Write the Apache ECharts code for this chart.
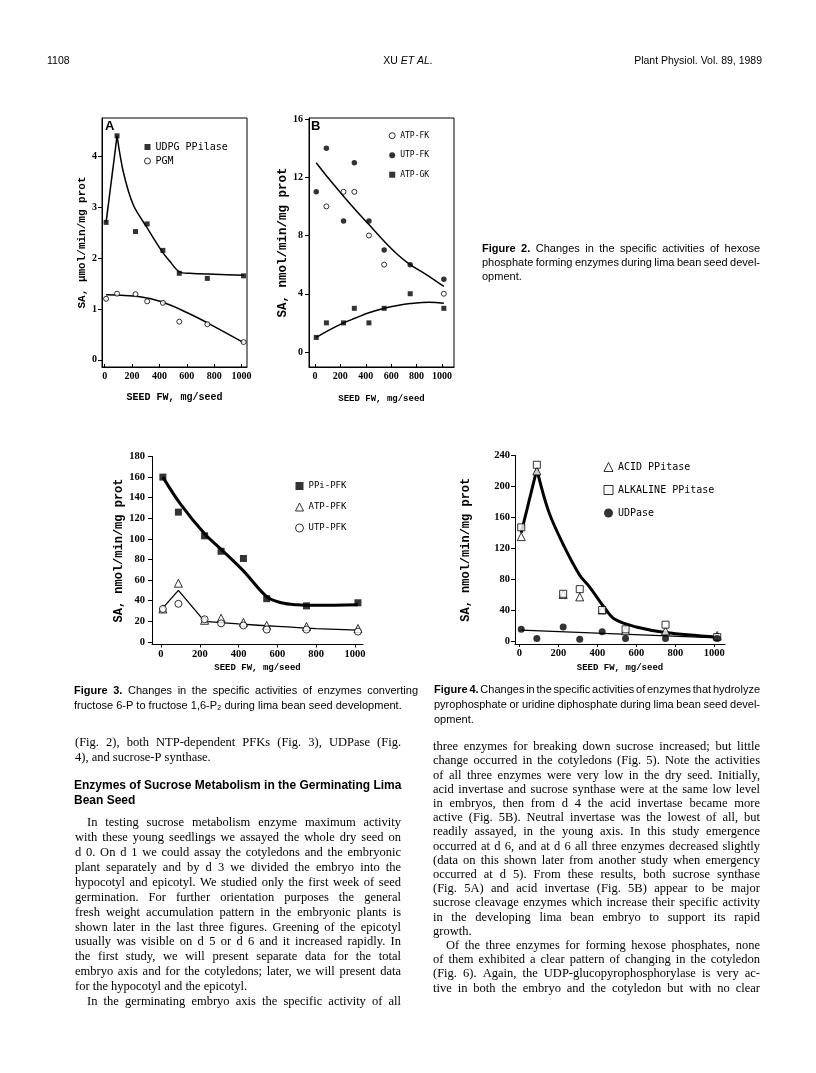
<!DOCTYPE html>
<html><head><meta charset="utf-8">
<script src="https://cdn.jsdelivr.net/npm/echarts@6/dist/echarts.min.js"></script>
<style>html,body{margin:0;padding:0;background:#fff}#c{width:816px;height:1073px}</style>
</head><body><div id="c"></div>
<script>
// ---------------- DATA ----------------
const seedFW = [10, 90, 225, 310, 425, 545, 750, 1015];
const xTicks = [0, 200, 400, 600, 800, 1000];

// Figure 2A
const yTicks2A = [0, 1, 2, 3, 4];
const udpgPPilase = [2.7, 4.4, 2.52, 2.67, 2.15, 1.7, 1.6, 1.65];
const pgm = [1.2, 1.3, 1.29, 1.15, 1.12, 0.75, 0.7, 0.35];
const udpgRiseX = [10, 90];
const udpgRiseY = [2.7, 4.4];
const udpgFitX = [90, 136, 209, 306, 416, 477, 545, 623, 800, 1015];
const udpgFitY = [4.4, 3.69, 3.04, 2.61, 2.14, 1.93, 1.73, 1.70, 1.68, 1.66];
const pgmFitX = [10, 258, 416, 623, 818, 1015];
const pgmFitY = [1.28, 1.24, 1.14, 0.9, 0.63, 0.34];

// Figure 2B
const yTicks2B = [0, 4, 8, 12, 16];
const atpFK = [null, 10, 11, 11, 8, 6, null, 4];
const utpFK = [11, 14, 9, 13, 9, 7, 6, 5];
const atpGK = [1, 2, 2, 3, 2, 3, 4, 3];
const fkFitX = [10, 100, 225, 325, 425, 545, 650, 750, 880, 1015];
const fkFitY = [13, 12.0, 10.7, 9.7, 8.75, 7.6, 6.7, 6.0, 5.3, 4.5];
const gkFitX = [10, 100, 225, 325, 425, 545, 650, 750, 900, 1015];
const gkFitY = [1.0, 1.45, 2.0, 2.35, 2.7, 3.0, 3.2, 3.33, 3.42, 3.35];

// Figure 3
const yTicks3 = [0, 20, 40, 60, 80, 100, 120, 140, 160, 180];
const ppiPFK = [160, 126, 103, 88, 81, 42, 35, 38];
const atpPFK = [32, 57, 21, 23, 19, 16, 15, 13];
const utpPFK = [32, 37, 22, 18, 16, 12, 12, 10];
const ppiFitX = [10, 100, 225, 310, 425, 545, 620, 700, 800, 1015];
const ppiFitY = [160, 134, 105, 90, 69, 44, 38, 36, 35.5, 36];
const ntpPeakX = [10, 90, 225];
const ntpPeakY = [33, 50, 20];
const ntpFitX = [225, 400, 600, 800, 1015];
const ntpFitY = [20, 17.5, 15, 13, 11.5];

// Figure 4
const yTicks4 = [0, 40, 80, 120, 160, 200, 240];
const acidPPitase = [135, 220, 60, 57, 40, 13, 13, 7];
const alkPPitase = [147, 228, 61, 67, 40, 15, 21, 5];
const udpase = [15, 3, 18, 2, 12, 3, 3, 3];
const ppRiseX = [10, 90];
const ppRiseY = [140, 222];
const ppFitX = [90, 150, 225, 310, 360, 440, 490, 600, 750, 1015];
const ppFitY = [222, 168, 125, 85, 70, 42, 28, 18, 11, 5];
const udpFitX = [10, 1015];
const udpFitY = [14, 4];

// ---------------- TEXT ----------------
const headerLeft = "1108";
const headerMid = ["XU", "ET AL."];
const headerRight = "Plant Physiol. Vol. 89, 1989";
const fig2Caption = ["Figure 2. Changes in the specific activities of hexose",
  "phosphate forming enzymes during lima bean seed devel-", "opment."];
const fig3Caption = ["Figure 3. Changes in the specific activities of enzymes converting",
  "fructose 6-P to fructose 1,6-P\u2082 during lima bean seed development."];
const fig4Caption = ["Figure 4. Changes in the specific activities of enzymes that hydrolyze",
  "pyrophosphate or uridine diphosphate during lima bean seed devel-", "opment."];
const leftTop = ["(Fig. 2), both NTP-dependent PFKs (Fig. 3), UDPase (Fig.",
  "4), and sucrose-P synthase."];
const heading = ["Enzymes of Sucrose Metabolism in the Germinating Lima", "Bean Seed"];
const leftPara = [
  "In testing sucrose metabolism enzyme maximum activity",
  "with these young seedlings we assayed the whole dry seed on",
  "d 0. On d 1 we could assay the cotyledons and the embryonic",
  "plant separately and by d 3 we divided the embryo into the",
  "hypocotyl and epicotyl. We studied only the first week of seed",
  "germination. For further orientation purposes the general",
  "fresh weight accumulation pattern in the embryonic plants is",
  "shown later in the last three figures. Greening of the epicotyl",
  "usually was visible on d 5 or d 6 and it increased rapidly. In",
  "the first study, we will present separate data for the total",
  "embryo axis and for the cotyledons; later, we will present data",
  "for the hypocotyl and the epicotyl.",
  "In the germinating embryo axis the specific activity of all"];
const leftParaEnds = [11];
const leftIndents = [0, 12];
const rightPara = [
  "three enzymes for breaking down sucrose increased; but little",
  "change occurred in the cotyledons (Fig. 5). Note the activities",
  "of all three enzymes were very low in the dry seed. Initially,",
  "acid invertase and sucrose synthase were at the same low level",
  "in embryos, then from d 4 the acid invertase became more",
  "active (Fig. 5B). Neutral invertase was the lowest of all, but",
  "readily assayed, in the young axis. In this study emergence",
  "occurred at d 6, and at d 6 all three enzymes decreased slightly",
  "(data on this shown later from another study when emergency",
  "occurred at d 5). From these results, both sucrose synthase",
  "(Fig. 5A) and acid invertase (Fig. 5B) appear to be major",
  "sucrose cleavage enzymes which increase their specific activity",
  "in the developing lima bean embryo to support its rapid",
  "growth.",
  "Of the three enzymes for forming hexose phosphates, none",
  "of them exhibited a clear pattern of changing in the cotyledon",
  "(Fig. 6). Again, the UDP-glucopyrophosphorylase is very ac-",
  "tive in both the embryo and the cotyledon but with no clear"];
const rightParaEnds = [13];
const rightIndents = [14];

// ---------------- HELPERS ----------------
const ctx = document.createElement('canvas').getContext('2d');
function tw(s, font) { ctx.font = font; return ctx.measureText(s).width; }
function textEl(s, x, y, font, align) {
  return { type: 'text', x: x, y: y, silent: true,
    style: { text: s, font: font, fill: '#000', textAlign: align || 'left', align: align || 'left',
      textVerticalAlign: 'middle', verticalAlign: 'middle' } };
}
function lineEls(str, x, y, width, font, boldFont, boldCount, justify) {
  const words = str.split(' ').filter(w => w.length);
  const fonts = words.map((w, i) => i < boldCount ? boldFont : font);
  const ws = words.map((w, i) => tw(w, fonts[i]));
  const total = ws.reduce((a, b) => a + b, 0);
  const gap = (justify && words.length > 1) ? (width - total) / (words.length - 1) : tw(' ', font);
  let cx = x; const out = [];
  words.forEach((w, i) => { out.push(textEl(w, cx, y, fonts[i])); cx += ws[i] + gap; });
  return out;
}
function block(lines, x, y0, lead, width, font, opts) {
  opts = opts || {};
  let out = [];
  lines.forEach((s, i) => {
    const ind = (opts.indents || []).includes(i) ? (opts.indent || 0) : 0;
    const last = (opts.ends || []).includes(i) || (opts.lastPlain && i === lines.length - 1);
    out = out.concat(lineEls(s, x + ind, y0 + i * lead, width - ind, font, opts.boldFont || font,
      i === 0 ? (opts.boldCount || 0) : 0, opts.justify !== false && !last));
  });
  return out;
}
function pts(xs, ys) { return xs.map((x, i) => ys[i] == null ? null : [x, ys[i]]).filter(Boolean); }
function scat(name, gi, ys, symbol, size, filled) {
  return { type: 'scatter', name: name, xAxisIndex: gi, yAxisIndex: gi, data: pts(seedFW, ys),
    symbol: symbol, symbolSize: size, z: 4, silent: true,
    itemStyle: filled ? { color: '#000', borderWidth: 0 } : { color: '#fff', borderColor: '#000', borderWidth: 1 } };
}
function fit(gi, xs, ys, width, smooth) {
  return { type: 'line', xAxisIndex: gi, yAxisIndex: gi, data: pts(xs, ys), showSymbol: false, symbol: 'none',
    smooth: smooth, lineStyle: { color: '#000', width: width }, z: 3, silent: true };
}
const tickFont = "'Liberation Serif'";
const monoFont = "'Liberation Mono'";
const plain = v => String(v);
function xAx(gi, min, max, inside, lblSize, nameSize, nameGap, margin) {
  return { type: 'value', gridIndex: gi, min: min, max: max,
    axisLine: { show: true, onZero: false, lineStyle: { color: '#000', width: 1 } },
    axisTick: { show: true, inside: inside, length: 3, customValues: xTicks, lineStyle: { color: '#000' } },
    axisLabel: { customValues: xTicks, formatter: plain, color: '#000', fontFamily: tickFont, fontWeight: 'bold', fontSize: lblSize, margin: margin },
    splitLine: { show: false },
    name: 'SEED FW, mg/seed', nameLocation: 'middle', nameGap: nameGap,
    nameTextStyle: { color: '#000', fontFamily: monoFont, fontWeight: 'bold', fontSize: nameSize } };
}
function yAx(gi, min, max, ticks, name, lblSize, nameSize, nameGap, margin) {
  return { type: 'value', gridIndex: gi, min: min, max: max,
    axisLine: { show: true, onZero: false, lineStyle: { color: '#000', width: 1 } },
    axisTick: { show: true, inside: false, length: 4, customValues: ticks, lineStyle: { color: '#000' } },
    axisLabel: { customValues: ticks, formatter: plain, color: '#000', fontFamily: tickFont, fontWeight: 'bold', fontSize: lblSize, margin: margin },
    splitLine: { show: false },
    name: name, nameLocation: 'middle', nameGap: nameGap,
    nameTextStyle: { color: '#000', fontFamily: monoFont, fontWeight: 'bold', fontSize: nameSize } };
}
function legend(left, top, gap, size, fontSize, items) {
  return { left: left, top: top, orient: 'vertical', padding: 0, itemGap: gap, itemWidth: size, itemHeight: size,
    selectedMode: false, textStyle: { color: '#000', fontFamily: "'DejaVu Sans Mono'", fontSize: fontSize },
    data: items.map(it => ({ name: it[0], icon: it[1],
      itemStyle: it[2] ? { color: '#000', borderWidth: 0 } : { color: '#fff', borderColor: '#000', borderWidth: 1 } })) };
}

// ---------------- TEXT LAYOUT ----------------
const capFont = "11px 'Liberation Sans'";
const capBold = "bold 11px 'Liberation Sans'";
const bodyFont = "12.5px 'Liberation Serif'";
const hdrFont = "10.5px 'Liberation Sans'";
let g = [];
g.push(textEl(headerLeft, 47, 61, hdrFont));
(function () {
  const a = tw(headerMid[0] + ' ', hdrFont), b = tw(headerMid[1], 'italic ' + hdrFont);
  const x0 = 408 - (a + b) / 2;
  g.push(textEl(headerMid[0], x0, 61, hdrFont));
  g.push(textEl(headerMid[1], x0 + a, 61, 'italic ' + hdrFont));
})();
g.push(textEl(headerRight, 762, 61, hdrFont, 'right'));
g = g.concat(block(fig2Caption, 482, 249, 13.9, 278, capFont, { boldFont: capBold, boldCount: 2, lastPlain: true }));
g = g.concat(block(fig3Caption, 74, 691, 15, 344, capFont, { boldFont: capBold, boldCount: 2, lastPlain: true }));
g = g.concat(block(fig4Caption, 434, 690, 15, 326, capFont, { boldFont: capBold, boldCount: 2, lastPlain: true }));
g = g.concat(block(leftTop, 75, 742.5, 15, 326, bodyFont, { lastPlain: true }));
g = g.concat(block(heading, 74, 786, 15, 344, "bold 12px 'Liberation Sans'", { justify: false }));
g = g.concat(block(leftPara, 75, 823, 14.9, 326, bodyFont, { ends: leftParaEnds, indents: leftIndents, indent: 12 }));
g = g.concat(block(rightPara, 433, 747, 14.2, 327, bodyFont, { ends: rightParaEnds, indents: rightIndents, indent: 13 }));
g.push(textEl('A', 105, 126, "bold 13px 'Liberation Sans'"));
g.push(textEl('B', 311, 126, "bold 13px 'Liberation Sans'"));

// ---------------- CHART ----------------
const chart = echarts.init(document.getElementById('c'), null, { renderer: 'canvas' });
chart.setOption({
  animation: false,
  backgroundColor: '#fff',
  grid: [
    { left: 102, top: 118, width: 145, height: 249, show: true, borderColor: '#000', borderWidth: 1 },
    { left: 309, top: 118, width: 145, height: 249, show: true, borderColor: '#000', borderWidth: 1 },
    { left: 152, top: 456.5, width: 211, height: 188 },
    { left: 515, top: 455.5, width: 210, height: 188.5 }
  ],
  xAxis: [
    xAx(0, -20, 1040, true, 10, 10, 25, 4),
    xAx(1, -47, 1095, true, 10, 9, 27, 4),
    xAx(2, -46, 1041, false, 10.5, 9, 19, 4),
    xAx(3, -22, 1055, false, 10.5, 9, 19, 4)
  ],
  yAxis: [
    yAx(0, -0.14, 4.75, yTicks2A, 'SA, \u00b5mol/min/mg prot', 10, 11, 11, 5),
    yAx(1, -1.03, 16.07, yTicks2B, 'SA, nmol/min/mg prot', 10, 12.5, 20, 6),
    yAx(2, -2.5, 180, yTicks3, 'SA, nmol/min/mg prot', 10.5, 12, 27, 7),
    yAx(3, -4, 240, yTicks4, 'SA, nmol/min/mg prot', 10.5, 12, 43, 5)
  ],
  legend: [
    legend(144, 142, 4, 6, 10, [['UDPG PPilase', 'rect', true], ['PGM', 'circle', false]]),
    legend(388.7, 131.7, 11.5, 6, 8, [['ATP-FK', 'circle', false], ['UTP-FK', 'circle', true], ['ATP-GK', 'rect', true]]),
    legend(295, 481.5, 12, 8, 9, [['PPi-PFK', 'rect', true], ['ATP-PFK', 'triangle', false], ['UTP-PFK', 'circle', false]]),
    legend(603.5, 462, 13, 9, 10, [['ACID PPitase', 'triangle', false], ['ALKALINE PPitase', 'rect', false], ['UDPase', 'circle', true]])
  ],
  series: [
    fit(0, udpgRiseX, udpgRiseY, 1.5, false),
    fit(0, udpgFitX, udpgFitY, 1.5, 0.3),
    fit(0, pgmFitX, pgmFitY, 1.5, 0.4),
    scat('UDPG PPilase', 0, udpgPPilase, 'rect', 5, true),
    scat('PGM', 0, pgm, 'circle', 5, false),

    fit(1, fkFitX, fkFitY, 1.5, 0.4),
    fit(1, gkFitX, gkFitY, 1.5, 0.4),
    scat('ATP-FK', 1, atpFK, 'circle', 5, false),
    scat('UTP-FK', 1, utpFK, 'circle', 5.5, true),
    scat('ATP-GK', 1, atpGK, 'rect', 5, true),

    fit(2, ppiFitX, ppiFitY, 3, 0.35),
    fit(2, ntpPeakX, ntpPeakY, 1.3, false),
    fit(2, ntpFitX, ntpFitY, 1.3, 0.4),
    scat('PPi-PFK', 2, ppiPFK, 'rect', 7, true),
    scat('ATP-PFK', 2, atpPFK, 'triangle', 8, false),
    scat('UTP-PFK', 2, utpPFK, 'circle', 7, false),

    fit(3, ppRiseX, ppRiseY, 3, false),
    fit(3, ppFitX, ppFitY, 3, 0.35),
    fit(3, udpFitX, udpFitY, 1.3, false),
    scat('ACID PPitase', 3, acidPPitase, 'triangle', 8, false),
    scat('ALKALINE PPitase', 3, alkPPitase, 'rect', 7, false),
    scat('UDPase', 3, udpase, 'circle', 7, true)
  ],
  graphic: { elements: g }
});
</script>
</body></html>
